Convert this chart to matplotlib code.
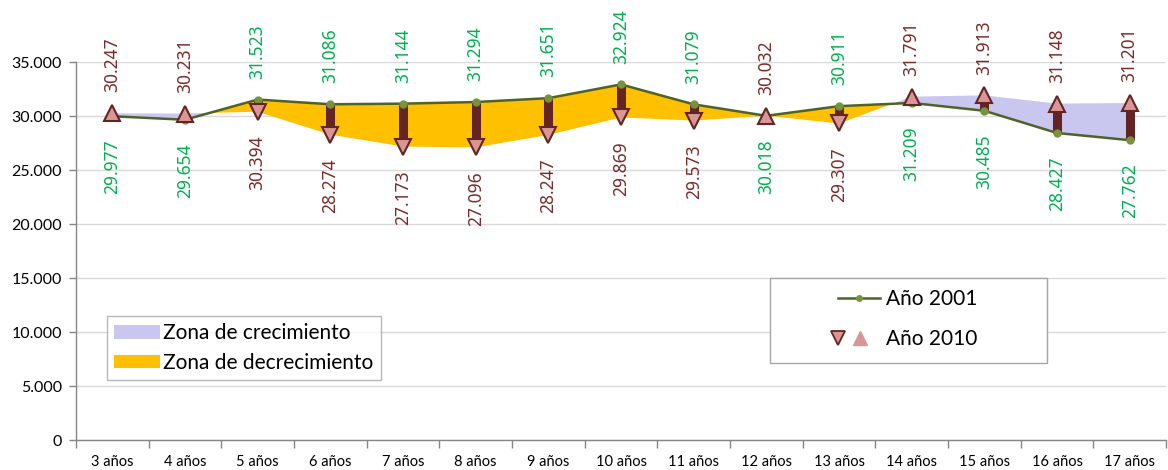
import matplotlib
matplotlib.use("Agg")
import matplotlib.pyplot as plt
import numpy as np
from matplotlib.lines import Line2D
from matplotlib.patches import Patch, Rectangle

categories = ["3 años", "4 años", "5 años", "6 años", "7 años", "8 años", "9 años", "10 años",
              "11 años", "12 años", "13 años", "14 años", "15 años", "16 años", "17 años"]
y2001 = [29977, 29654, 31523, 31086, 31144, 31294, 31651, 32924, 31079, 30018, 30911, 31209, 30485, 28427, 27762]
y2010 = [30247, 30231, 30394, 28274, 27173, 27096, 28247, 29869, 29573, 30032, 29307, 31791, 31913, 31148, 31201]
yticks = [0, 5000, 10000, 15000, 20000, 25000, 30000, 35000]

GREEN_TXT = "#00B050"
RED_TXT = "#7A2A2A"
LINE = "#4F6228"
DOT = "#77933C"
BAR = "#632523"
TRI = "#D99694"
LAV = "#C9C6F0"
ORANGE = "#FFC000"

plt.rcParams['font.family'] = ['Lato', 'DejaVu Sans']

fig = plt.figure(figsize=(11.68, 4.70), dpi=100)
ax = fig.add_axes([76/1168, 1-440/470, 1090/1168, (440-62)/470])

x = np.arange(len(categories))
a = np.array(y2001, dtype=float)
b = np.array(y2010, dtype=float)

ax.fill_between(x, a, b, where=b >= a, interpolate=True, color=LAV, lw=0, zorder=2)
ax.fill_between(x, a, b, where=b < a, interpolate=True, color=ORANGE, lw=0, zorder=2)

ax.vlines(x, a, b, color=BAR, lw=6.5, zorder=3)
ax.plot(x, a, color=LINE, lw=1.8, marker='o', ms=5, mfc=DOT, mec=DOT, zorder=4)

up = b >= a
ax.plot(x[up], b[up], ls='none', marker='^', ms=11, mfc=TRI, mec=BAR, mew=1.5, zorder=5)
ax.plot(x[~up], b[~up], ls='none', marker='v', ms=11, mfc=TRI, mec=BAR, mew=1.5, zorder=5)

def fmt(v):
    return "{:,.0f}".format(v).replace(",", ".")

for i in range(len(x)):
    hi, lo = max(a[i], b[i]), min(a[i], b[i])
    hi_col = GREEN_TXT if a[i] >= b[i] else RED_TXT
    lo_col = RED_TXT if a[i] >= b[i] else GREEN_TXT
    ax.annotate(fmt(hi), (x[i], hi), xytext=(0, 15), textcoords='offset points',
                rotation=90, ha='center', va='bottom', color=hi_col, fontsize=12.5,
                family=['Noto Sans', 'DejaVu Sans'], annotation_clip=False, zorder=6)
    ax.annotate(fmt(lo), (x[i], lo), xytext=(0, -17), textcoords='offset points',
                rotation=90, ha='center', va='top', color=lo_col, fontsize=12.5,
                family=['Noto Sans', 'DejaVu Sans'], annotation_clip=False, zorder=6)

ax.set_xlim(-0.5, len(x) - 0.5)
ax.set_ylim(0, 35000)
ax.set_yticks(yticks)
ax.set_yticklabels([fmt(v) for v in yticks], fontsize=11.5)
ax.set_xticks(x)
ax.set_xticklabels(categories, fontsize=10.5)
ax.set_xticks(np.arange(len(x) + 1) - 0.5, minor=True)
ax.tick_params(axis='x', which='major', length=0, pad=11)
ax.tick_params(axis='x', which='minor', length=6, color='#868686', width=1)
ax.tick_params(axis='y', length=5, color='#868686', width=1, pad=5)
ax.grid(axis='y', color='#D9D9D9', lw=1, zorder=0)
ax.set_axisbelow(True)
for s in ['top', 'right']:
    ax.spines[s].set_visible(False)
for s in ['left', 'bottom']:
    ax.spines[s].set_color('#868686')
    ax.spines[s].set_linewidth(1)

h1 = [Patch(facecolor=LAV, edgecolor='none'), Patch(facecolor=ORANGE, edgecolor='none')]
leg1 = fig.legend(h1, ["Zona de crecimiento", "Zona de decrecimiento"], loc='upper left',
                  bbox_to_anchor=(107/1168, 1-316/470), fontsize=15, frameon=True, fancybox=False,
                  edgecolor='#A6A6A6', handlelength=2.2, handleheight=0.6, handletextpad=0.15,
                  labelspacing=0.45, borderpad=0.35, borderaxespad=0)
leg1.get_frame().set_linewidth(1)

# frame of the second legend box
fig.patches.append(Rectangle((770/1168, 1-363/470), (1047-770)/1168, (363-278)/470,
                             transform=fig.transFigure, facecolor='white', edgecolor='#A6A6A6',
                             lw=1, zorder=1))


class TriPair:
    pass


class TriHandler:
    def legend_artist(self, legend, orig_handle, fontsize, handlebox):
        x0, y0 = handlebox.xdescent, handlebox.ydescent
        w, h = handlebox.width, handlebox.height
        tr = handlebox.get_transform()
        l1 = Line2D([x0 + 0.0 * w], [y0 + h / 2], ls='none', marker='v', ms=10,
                    mfc=TRI, mec=BAR, mew=1.3, transform=tr)
        l2 = Line2D([x0 + 0.52 * w], [y0 + h / 2], ls='none', marker='^', ms=10,
                    mfc=TRI, mec=TRI, mew=1, transform=tr)
        handlebox.add_artist(l1)
        handlebox.add_artist(l2)
        return l1


hl = Line2D([], [], color=LINE, lw=1.8, marker='o', ms=4, mfc=DOT, mec=DOT)
tp = TriPair()
leg2 = fig.legend([hl, tp], ["Año 2001", "Año 2010"], loc='upper left',
                  bbox_to_anchor=(838/1168, 1-289/470), fontsize=15, frameon=False,
                  handlelength=2.0, handletextpad=0.3,
                  labelspacing=0.95, borderpad=0, borderaxespad=0,
                  handler_map={TriPair: TriHandler()})

fig.savefig("out.png", dpi=100)
